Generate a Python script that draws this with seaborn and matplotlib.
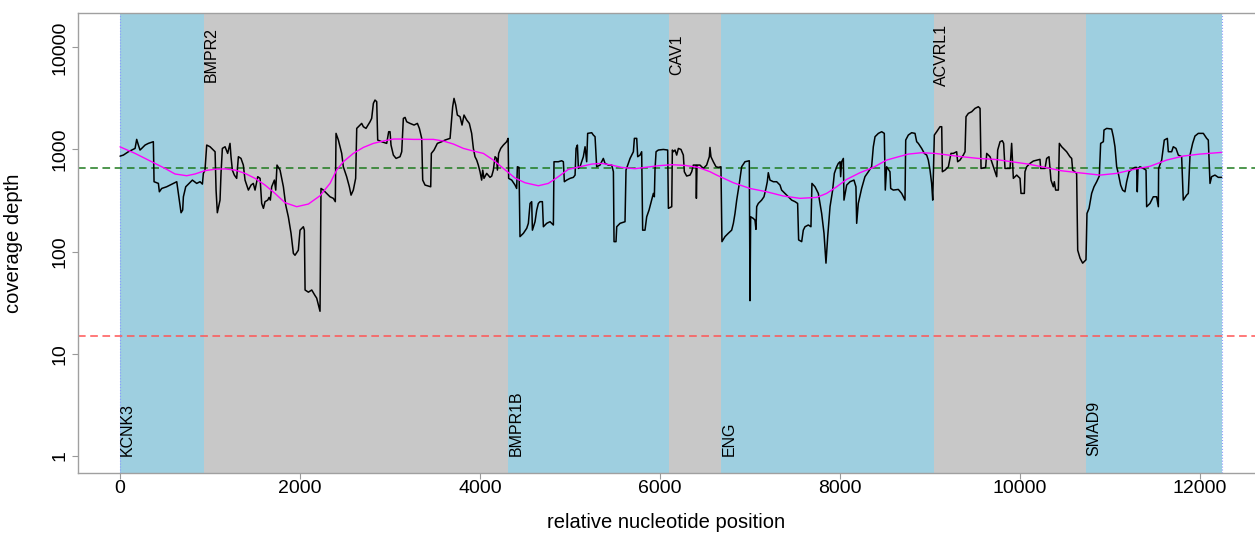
import matplotlib
matplotlib.use("Agg")
import matplotlib.pyplot as plt
import pandas as pd
import seaborn as sns

# gene regions (start position on the concatenated target)
genes = ["KCNK3", "BMPR2", "BMPR1B", "CAV1", "ENG", "ACVRL1", "SMAD9"]
gene_starts = [0, 930, 4314, 6100, 6681, 9041, 10737]
target_end = 12240

# coverage depth
cov_pos = [
    0, 37, 93, 167, 185, 204, 222, 241, 278, 315, 370, 378, 426, 437, 463,
    518, 555, 593, 630, 648, 678, 696, 704, 730, 767, 804, 852, 889, 915, 926,
    944, 963, 1000, 1037, 1056, 1067, 1081, 1111, 1122, 1137, 1167, 1196, 1222,
    1233, 1248, 1270, 1296, 1315, 1344, 1370, 1389, 1426, 1456, 1481, 1500,
    1530, 1556, 1574, 1593, 1611, 1641, 1656, 1670, 1685, 1715, 1730, 1744,
    1778, 1815, 1841, 1870, 1900, 1926, 1944, 1981, 2000, 2037, 2048, 2056,
    2093, 2130, 2167, 2185, 2222, 2233, 2259, 2296, 2333, 2370, 2392, 2400,
    2426, 2463, 2481, 2518, 2548, 2567, 2592, 2618, 2630, 2667, 2685, 2704,
    2733, 2778, 2796, 2815, 2833, 2852, 2863, 2907, 2963, 2985, 3000, 3011,
    3037, 3067, 3111, 3130, 3148, 3167, 3185, 3222, 3267, 3304, 3326, 3352,
    3363, 3389, 3452, 3459, 3489, 3526, 3574, 3611, 3667, 3696, 3711, 3730,
    3748, 3778, 3800, 3822, 3852, 3881, 3907, 3926, 3944, 3963, 3981, 4000,
    4018, 4030, 4044, 4074, 4111, 4130, 4148, 4167, 4185, 4193, 4207, 4230,
    4259, 4296, 4312, 4318, 4352, 4389, 4407, 4415, 4433, 4444, 4482, 4519,
    4537, 4556, 4574, 4582, 4611, 4630, 4648, 4667, 4693, 4704, 4741, 4778,
    4815, 4822, 4870, 4907, 4926, 4937, 4963, 5000, 5037, 5056, 5067, 5082,
    5093, 5111, 5148, 5167, 5185, 5196, 5241, 5259, 5278, 5296, 5333, 5370,
    5389, 5426, 5463, 5482, 5489, 5511, 5519, 5556, 5611, 5622, 5641, 5667,
    5704, 5715, 5741, 5752, 5778, 5796, 5807, 5833, 5852, 5878, 5907, 5926,
    5937, 5944, 5956, 5981, 6037, 6085, 6093, 6130, 6137, 6148, 6167, 6185,
    6204, 6233, 6259, 6270, 6296, 6333, 6352, 6370, 6400, 6404, 6411, 6444,
    6481, 6518, 6548, 6555, 6566, 6592, 6622, 6648, 6677, 6688, 6722, 6759,
    6796, 6815, 6833, 6852, 6881, 6907, 6944, 6992, 7000, 7007, 7037, 7055,
    7066, 7074, 7092, 7129, 7155, 7177, 7192, 7203, 7222, 7259, 7296, 7333,
    7351, 7388, 7425, 7463, 7500, 7529, 7540, 7574, 7592, 7611, 7648, 7677,
    7688, 7722, 7759, 7796, 7822, 7844, 7863, 7889, 7918, 7937, 7963, 7981,
    8000, 8007, 8018, 8037, 8044, 8074, 8111, 8155, 8177, 8185, 8203, 8240,
    8277, 8315, 8351, 8370, 8389, 8426, 8463, 8492, 8503, 8518, 8555, 8563,
    8592, 8648, 8685, 8722, 8730, 8759, 8796, 8833, 8852, 8870, 8907, 8937,
    8963, 8981, 9000, 9018, 9030, 9048, 9074, 9111, 9130, 9137, 9167, 9204,
    9233, 9259, 9296, 9307, 9333, 9370, 9389, 9400, 9426, 9463, 9500, 9537,
    9556, 9567, 9618, 9630, 9667, 9704, 9741, 9752, 9778, 9803, 9818, 9833,
    9889, 9907, 9926, 9963, 10000, 10011, 10048, 10055, 10074, 10111, 10148,
    10222, 10229, 10278, 10296, 10322, 10333, 10344, 10370, 10381, 10396,
    10426, 10437, 10463, 10518, 10555, 10574, 10585, 10629, 10641, 10667,
    10696, 10733, 10744, 10767, 10796, 10822, 10852, 10881, 10896, 10926,
    10933, 10963, 11018, 11037, 11055, 11074, 11092, 11118, 11140, 11166,
    11185, 11211, 11240, 11277, 11296, 11303, 11311, 11333, 11370, 11400,
    11407, 11444, 11481, 11518, 11537, 11540, 11574, 11603, 11637, 11648,
    11685, 11703, 11733, 11759, 11796, 11814, 11851, 11870, 11889, 11918,
    11944, 11981, 12037, 12074, 12092, 12111, 12129, 12166, 12203, 12240,
]
cov_depth = [
    860, 881, 950, 1024, 1255, 1104, 987, 1024, 1104, 1147, 1191, 483, 465, 385, 415,
    431, 448, 465, 483, 371, 240, 255, 344, 431, 465, 501, 465, 483, 458, 583,
    628, 1104, 1063, 987, 950, 400, 240, 319, 583, 1024, 1063, 915, 1147,
    849, 628, 561, 521, 849, 817, 703, 501, 400, 448, 465, 400,
    541, 521, 296, 265, 308, 319, 339, 319, 431, 501, 400, 703,
    628, 431, 285, 219, 151, 96, 92, 103, 162, 175, 162, 42,
    40, 42, 37, 35, 26, 415, 400, 371, 344, 332, 308, 1437,
    1236, 915, 677, 541, 431, 357, 400, 521, 1608, 1734, 1800, 1670,
    1608, 1869, 2015, 2827, 3047, 2935, 1236, 1191, 1147, 1492, 1492, 1104,
    881, 817, 849, 950, 2015, 2060, 1869, 1800, 1734, 1800, 1608, 1284,
    501, 448, 431, 915, 987, 1147, 1191, 1236, 1284, 2622, 3164, 2722,
    2173, 2092, 1734, 2173, 1941, 1800, 1437, 1024, 849, 787, 703, 605,
    501, 628, 521, 583, 533, 549, 628, 849, 817, 628, 915, 1024,
    1104, 1191, 1284, 521, 501, 448, 415, 677, 667, 140, 151, 169,
    189, 296, 308, 162, 196, 255, 296, 308, 308, 175, 189, 196,
    182, 758, 758, 775, 758, 483, 501, 521, 533, 561, 1024, 1104,
    652, 677, 849, 1063, 758, 1437, 1459, 1384, 1333, 677, 703, 817,
    730, 703, 703, 605, 125, 125, 175, 189, 196, 628, 703, 817,
    950, 1284, 1284, 849, 881, 950, 162, 162, 219, 255, 319, 371,
    344, 628, 950, 987, 1000, 987, 265, 275, 987, 950, 987, 881,
    1024, 1000, 881, 605, 549, 561, 605, 703, 703, 332, 703, 703,
    652, 703, 849, 1047, 849, 758, 677, 667, 677, 125, 140, 151,
    162, 189, 236, 319, 465, 677, 758, 775, 33, 219, 211, 203,
    165, 275, 296, 319, 344, 415, 483, 592, 501, 483, 483, 448,
    400, 371, 344, 319, 308, 296, 130, 125, 162, 175, 182, 175,
    465, 431, 371, 236, 151, 77, 140, 275, 400, 583, 677, 730,
    758, 541, 758, 817, 319, 448, 483, 501, 431, 189, 296, 415,
    541, 605, 677, 1063, 1333, 1437, 1492, 1437, 400, 677, 605, 415,
    400, 406, 371, 319, 1236, 1384, 1459, 1437, 1191, 1147, 1024, 915,
    881, 787, 628, 465, 319, 1384, 1492, 1670, 1670, 605, 628, 677,
    915, 915, 950, 758, 787, 881, 950, 2092, 2256, 2342, 2525, 2622,
    2525, 652, 667, 915, 849, 677, 541, 987, 1191, 1218, 1147, 652,
    652, 1147, 521, 561, 521, 371, 371, 605, 677, 730, 770,
    800, 652, 652, 817, 849, 652, 501, 431, 483, 400,
    400, 1147, 1063, 950, 849, 817, 628, 583, 103, 86,
    77, 83, 236, 265, 371, 431, 483, 549, 1147, 1191,
    1549, 1608, 1585, 1333, 1063, 677, 583, 448, 400, 385,
    483, 605, 637, 667, 667, 385, 652, 677, 652, 628,
    275, 296, 344, 344, 275, 652, 787, 1236, 1284, 950,
    950, 1063, 1024, 881, 849, 319, 357, 371, 881, 1147,
    1353, 1437, 1437, 1284, 1236, 465, 541, 561, 533, 533,
]

# smoothed trend (magenta)
trend_pos = [0, 167, 315, 500, 611, 741, 833, 944, 1056, 1167, 1278, 1389, 1500,
             1611, 1722, 1833, 1963, 2093, 2222, 2333, 2407, 2481, 2592, 2704,
             2815, 2926, 3037, 3148, 3259, 3370, 3481, 3592, 3704, 3815, 3926,
             4037, 4148, 4259, 4389, 4500, 4648, 4759, 4870, 4981, 5093, 5241,
             5352, 5463, 5574, 5722, 5833, 5981, 6130, 6278, 6426, 6556, 6629,
             6815, 6999, 7185, 7370, 7555, 7740, 7851, 7963, 8074, 8222, 8370,
             8518, 8611, 8759, 8907, 9055, 9204, 9352, 9537, 9722, 9907, 10092,
             10278, 10463, 10648, 10889, 11074, 11259, 11444, 11629, 11814,
             11999, 12240]
trend_depth = [1060, 915, 787, 652, 575, 553, 575, 620, 640, 645, 628, 583, 521,
               448, 371, 301, 275, 292, 352, 465, 628, 758, 915, 1047,
               1147, 1210, 1265, 1265, 1255, 1255, 1255, 1210, 1130, 1024, 965,
               915, 787, 652, 525, 472, 441, 465, 541, 638, 672, 719,
               730, 703, 667, 648, 667, 693, 709, 698, 667, 605, 561,
               472, 415, 385, 350, 332, 339, 371, 431, 509, 592, 667,
               787, 830, 901, 929, 915, 881, 849, 817, 799, 758, 719,
               667, 618, 592, 561, 583, 637, 684, 787, 862,
               901, 936]

mean_depth = 655
min_depth = 15

y_ticks = [1, 10, 100, 1000, 10000]
x_ticks = [0, 2000, 4000, 6000, 8000, 10000, 12000]

sns.set_style("white")
plt.rcParams["font.family"] = ["Liberation Sans", "DejaVu Sans"]
plt.rcParams["text.color"] = "black"
plt.rcParams["axes.labelcolor"] = "black"

fig = plt.figure(figsize=(12.55, 5.36), dpi=100)
ax = fig.add_axes([0.0618, 0.1175, 0.9382, 0.8576])

blue = "#9ecfe0"
grey = "#c8c8c8"
ends = gene_starts[1:] + [target_end]
for i, (name, start, end) in enumerate(zip(genes, gene_starts, ends)):
    ax.axvspan(start, end, color=blue if i % 2 == 0 else grey, lw=0, zorder=0)
    if i % 2 == 0:
        ax.text(start, 1, name, rotation=90, ha="left", va="bottom",
                fontsize=11.5, color="black", zorder=5)
    else:
        ax.text(start, 8500, name, rotation=90, ha="left", va="center",
                fontsize=11.5, color="black", zorder=5)
for xv in [gene_starts[0], target_end]:
    ax.axvline(xv, color="#8c9cff", lw=0.8, ls=":", zorder=1)

ax.axhline(mean_depth, color="#1e7b1e", lw=1.1, ls=(0, (5, 3)), zorder=2)
ax.axhline(min_depth, color="#ff5555", lw=1.1, ls=(0, (5, 3)), zorder=2)

cov = pd.DataFrame({"pos": cov_pos, "depth": cov_depth})
trend = pd.DataFrame({"pos": trend_pos, "depth": trend_depth})
sns.lineplot(data=cov, x="pos", y="depth", color="black", lw=1.1,
             estimator=None, sort=False, ax=ax, zorder=3)
sns.lineplot(data=trend, x="pos", y="depth", color="#ff00ff", lw=1.0,
             estimator=None, sort=False, ax=ax, zorder=4)

ax.set_yscale("log")
ax.set_xlim(-472, 12611)
ax.set_ylim(0.677, 21540)
ax.set_yticks(y_ticks)
ax.set_yticklabels([str(v) for v in y_ticks])
ax.yaxis.set_minor_locator(matplotlib.ticker.NullLocator())
ax.set_xticks(x_ticks)
ax.set_xticklabels([str(v) for v in x_ticks])

ax.tick_params(axis="both", which="major", length=4, width=0.8,
               color="#999999", labelsize=14, labelcolor="black", left=True,
               bottom=True)
ax.tick_params(axis="x", pad=1)
ax.tick_params(axis="y", pad=2.5, labelrotation=90)
for lab in ax.get_yticklabels():
    lab.set_va("center")

for side in ["left", "bottom", "top"]:
    ax.spines[side].set_color("#a0a0a0")
    ax.spines[side].set_linewidth(1.0)
ax.spines["right"].set_visible(False)

ax.set_xlabel("relative nucleotide position", fontsize=14.5)
ax.set_ylabel("coverage depth", fontsize=14.5)
ax.xaxis.set_label_coords(0.5, -0.088)
ax.yaxis.set_label_coords(-0.046, 0.5)

fig.savefig("out.png", dpi=100)
